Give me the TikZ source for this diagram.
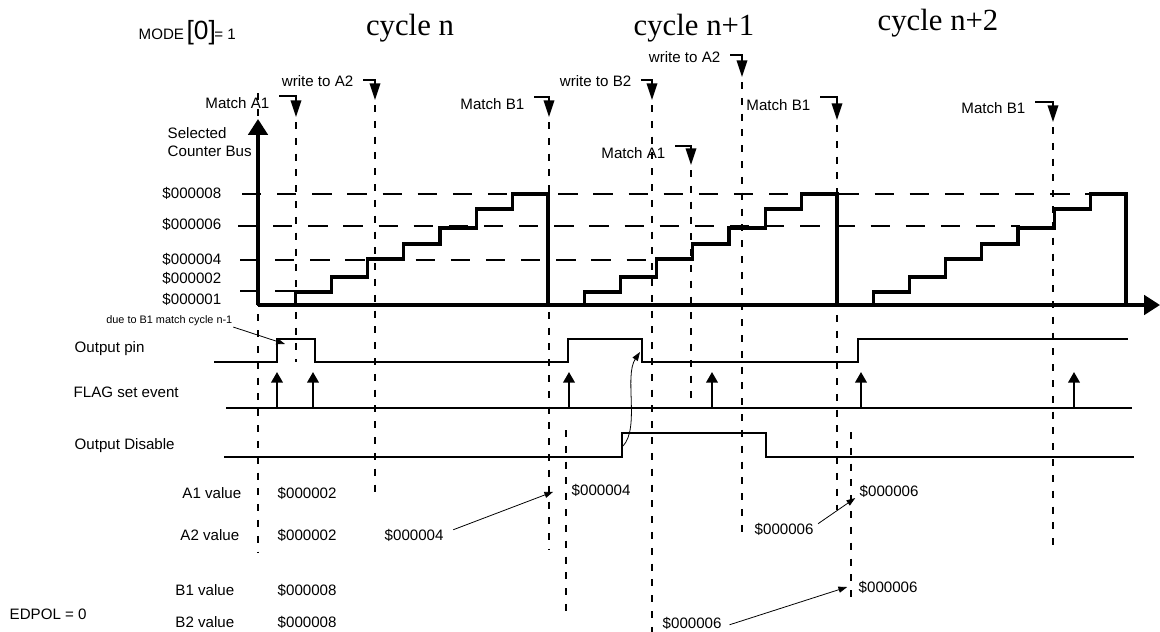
\documentclass[tikz,border=0pt]{standalone}
\usepackage{fontspec}
\setmainfont{Liberation Sans}
\newfontfamily\cyclefont{Liberation Serif}
\usetikzlibrary{arrows.meta}
\tikzset{
  every picture/.style={line width=1.1pt},
  lbl/.style={font=\fontsize{8.6}{10.2}\selectfont, inner sep=1pt},
  val/.style={lbl, anchor=west},
  tiny/.style={font=\fontsize{6.2}{7}\selectfont, inner sep=1pt},
  cyc/.style={font=\cyclefont\fontsize{17.5}{20}\selectfont, inner sep=0pt},
  stair/.style={line width=1.9pt},
  axis/.style={line width=1.9pt, -{Triangle[length=9pt,width=11pt]}},
  signal/.style={line width=1.3pt},
  marker/.style={line width=1.1pt, -{Triangle[length=9.5pt,width=6pt]}},
  flag/.style={line width=1.2pt, -{Triangle[length=6pt,width=6.5pt]}},
  cut/.style={line width=1.2pt, dash pattern=on 4pt off 5pt},
  level/.style={line width=1.1pt, dash pattern=on 11pt off 9pt},
  note/.style={line width=0.45pt, -{Triangle[length=5pt,width=3.5pt]}},
}

\begin{document}
\begin{tikzpicture}[x=0.02cm, y=-0.02cm]
  \useasboundingbox (0,0) rectangle (1160,632);
  \node[lbl, anchor=west] (mode) at (136,33) {MODE\,{\fontsize{15}{15}\selectfont[0]}\kern-0.8pt= 1};
  \foreach \t/\x/\y [count=\k] in {cycle n/410/28, cycle n+1/694/28, cycle n+2/938/23} \node[cyc] (cyc\k) at (\x,\y) {\t};
  \foreach \x/\a/\b [count=\k] in {258/93/552, 566/430/613, 851/432/605} {
    \coordinate (c\k a) at (\x,\a); \coordinate (c\k b) at (\x,\b);
    \draw[cut] (c\k a) -- (c\k b);
  }
  \foreach \t/\tx/\ty/\ly/\ax/\tip/\e [count=\k] in {Match A1/272/103/96/296/117/362, write to A2/356/81/80/375/100/495,
      Match B1/527/104/97/549/117/550, write to B2/634/81/80/652/100/632, write to A2/723/57/55/742/77/540,
      Match A1/668/153/146/691/165/400, Match B1/813/105/97/837/120/510, Match B1/1028/108/102/1053/122/548} {
    \node[lbl, anchor=east] (m\k) at (\tx,\ty) {\t};
    \coordinate (m\k tip) at (\ax,\tip);
    \coordinate (m\k end) at (\ax,\e);
    \draw[marker] ([xshift=4pt]m\k.east) ++(0,\ly-\ty) -| (m\k tip);
    \draw[cut] (m\k tip) ++(0,5) -- (m\k end);
  }
  \foreach \y/\a/\b in {194/242/1128, 226/238/1020, 260/240/652, 291/240/297} \draw[level] (\a,\y) -- (\b,\y);
  \foreach \t/\y [count=\k] in {08/193, 06/224, 04/259, 02/278, 01/299} \node[lbl, anchor=east] (yl\k) at (224,\y) {\$0000\t};
  \node[lbl, anchor=north west, align=left] (ytitle) at (165,125) {Selected\\Counter Bus};
  \foreach \s in {259,548,837} {
    \draw[stair] (\s,305) \foreach \lv [count=\j] in {292,277,259,244,228,209,194} { -| (\s+36.2*\j,\lv) } -| (\s+289,305);
  }
  \coordinate (origin) at (258,305);
  \coordinate (ytip) at (258,119);
  \coordinate (xtip) at (1160,305);
  \draw[axis] (origin) -- (ytip);
  \draw[axis] (origin) -- (xtip);
  \node[lbl, anchor=west] (sOut) at (72,349) {Output pin};
  \node[lbl, anchor=west] (sFlag) at (71,392) {FLAG set event};
  \node[lbl, anchor=west] (sDis) at (72,446) {Output Disable};
  \draw[signal] (214,362) -| (277,339) -| (315,362) -| (568,339) -| (642,362) -| (858,339) -- (1128,339);
  \draw[signal] (226,408) -- (1132,408);
  \foreach \x in {277,313,569,712,861,1074} \draw[flag] (\x,408) -- (\x,372);
  \draw[signal] (224,457) -| (622,433) -| (766,457) -- (1134,457);
  \node[tiny, anchor=east] (due) at (235,321) {due to B1 match cycle n-1};
  \coordinate (dueTip) at (285,344);
  \draw[note] ([xshift=-1pt,yshift=1pt]due.south east) -- (dueTip);
  \coordinate (odRise) at (623,446);
  \coordinate (opFall) at (640,352);
  \draw[note] (odRise) .. controls (640,428) and (624,376) .. (opFall);
  \foreach \t/\x/\y [count=\k] in {A1 value/244/493, A2 value/242/535, B1 value/237/590, B2 value/237/622} \node[lbl, anchor=east] (row\k) at (\x,\y) {\t};
  \foreach \t/\y [count=\k] in {02/493, 02/535, 08/590, 08/622} \node[val] (v\k) at (275,\y) {\$0000\t};
  \node[lbl, anchor=west] (edpol) at (7,614) {EDPOL = 0};
  \node[val] (a2n) at (382,535) {\$000004};
  \node[val] (a1n) at (569,490) {\$000004};
  \node[val] (a2m) at (752,529) {\$000006};
  \node[val] (a1m) at (857,491) {\$000006};
  \node[val] (b2m) at (660,623) {\$000006};
  \node[val] (b1m) at (856,587) {\$000006};
  \draw[note] ([xshift=4pt,yshift=3pt]a2n.east) -- ([xshift=-9pt,yshift=-1pt]a1n.west);
  \draw[note] ([xshift=1pt,yshift=3pt]a2m.east) -- ([xshift=-1pt,yshift=-4pt]a1m.west);
  \draw[note] ([xshift=3pt,yshift=-1pt]b2m.east) -- ([xshift=-5pt]b1m.west);
\end{tikzpicture}
\end{document}
